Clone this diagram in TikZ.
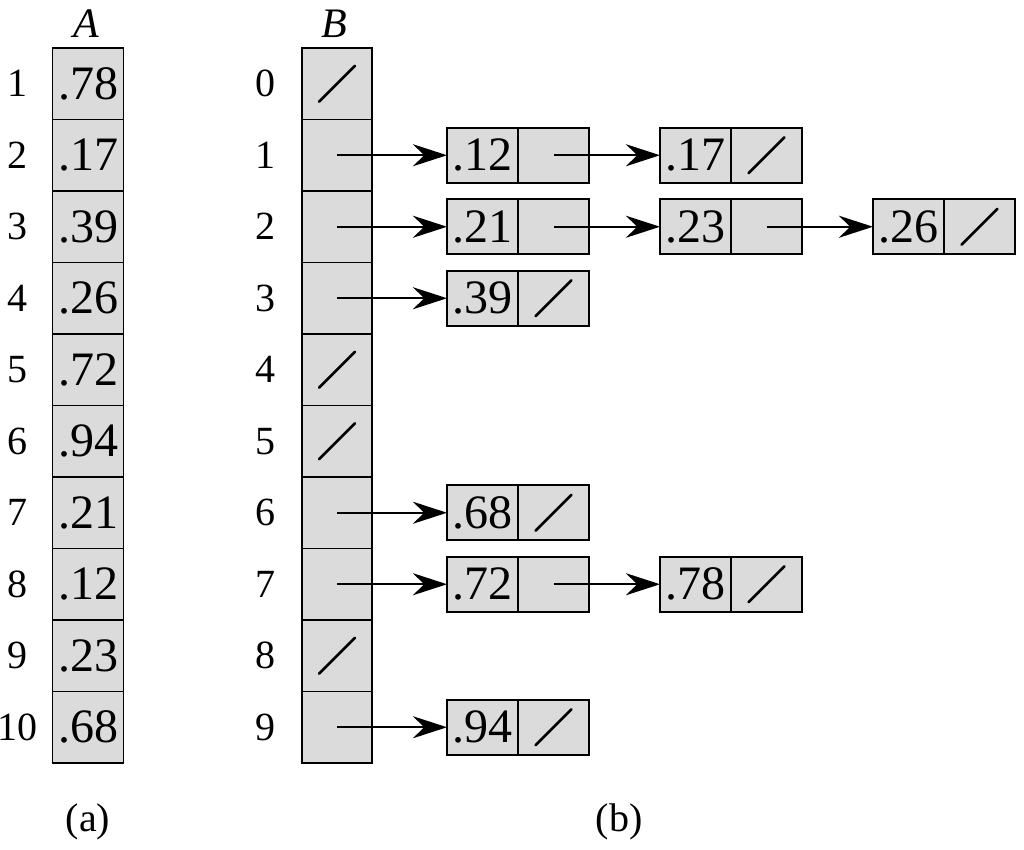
\documentclass[tikz,border=0pt]{standalone}
\usepackage{fontspec}
\setmainfont{Liberation Serif}
\usetikzlibrary{arrows.meta}
\definecolor{cellgray}{gray}{0.86}
\tikzset{
  cell/.style={draw,fill=cellgray,line width=0.9pt,minimum width=35.5pt,
    minimum height=35.75pt,inner sep=0pt,outer sep=0pt,font=\fontsize{24}{28}\selectfont},
  half/.style={cell,minimum width=35.5pt,minimum height=27.5pt},
  idx/.style={font=\fontsize{20}{24}\selectfont},
  title/.style={font=\fontsize{21}{24}\selectfont\itshape},
  slash/.style={line width=1.4pt,line cap=round},
  ptr/.style={line width=0.9pt,-{Stealth[length=17pt,width=11pt]}}
}
% slash for an empty pointer
\newcommand\nilmark[1]{\draw[slash] (#1.center) +(-9pt,-9pt) -- +(9pt,9pt);}
% list element: name, x of key, row, key
\newcommand\elem[4]{%
  \node[half] (#1) at (#2,{83.75+71.5*#3}) {#4};
  \node[half,anchor=west] (#1p) at (#1.east) {};}
\begin{document}
\begin{tikzpicture}[x=0.5pt,y=-0.5pt]
  \useasboundingbox (0,0) rectangle (1024,850);
  % (a) the input array
  \node[title] (tA) at (86,24) {A};
  \foreach \v [count=\i] in {.78,.17,.39,.26,.72,.94,.21,.12,.23,.68} {
    \node[cell] (a\i) at (88,{48+71.5*(\i-0.5)}) {\v};
    \node[idx] (ia\i) at (17,{48+71.5*(\i-0.5)}) {\i};
  }
  \node[idx] (capa) at (88,822) {(a)};
  % (b) the buckets
  \node[title] (tB) at (334,24) {B};
  \foreach \i in {0,...,9} {
    \node[cell,minimum width=35pt] (b\i) at (337,{83.75+71.5*\i}) {};
    \node[idx] (ib\i) at (265,{83.75+71.5*\i}) {\i};
  }
  \foreach \i in {0,4,5,8} {\nilmark{b\i}}
  \elem{n1a}{482.5}{1}{.12}
  \elem{n1b}{695.5}{1}{.17}
  \elem{n2a}{482.5}{2}{.21}
  \elem{n2b}{695.5}{2}{.23}
  \elem{n2c}{908.5}{2}{.26}
  \elem{n3a}{482.5}{3}{.39}
  \elem{n6a}{482.5}{6}{.68}
  \elem{n7a}{482.5}{7}{.72}
  \elem{n7b}{695.5}{7}{.78}
  \elem{n9a}{482.5}{9}{.94}
  \draw[ptr] (b1.center) -- (n1a.west);
  \draw[ptr] (n1ap.center) -- (n1b.west);
  \draw[ptr] (b2.center) -- (n2a.west);
  \draw[ptr] (n2ap.center) -- (n2b.west);
  \draw[ptr] (n2bp.center) -- (n2c.west);
  \draw[ptr] (b3.center) -- (n3a.west);
  \draw[ptr] (b6.center) -- (n6a.west);
  \draw[ptr] (b7.center) -- (n7a.west);
  \draw[ptr] (n7ap.center) -- (n7b.west);
  \draw[ptr] (b9.center) -- (n9a.west);
  \foreach \n in {n1bp,n2cp,n3ap,n6ap,n7bp,n9ap} {\nilmark{\n}}
  \node[idx] (capb) at (619,822) {(b)};
\end{tikzpicture}
\end{document}
